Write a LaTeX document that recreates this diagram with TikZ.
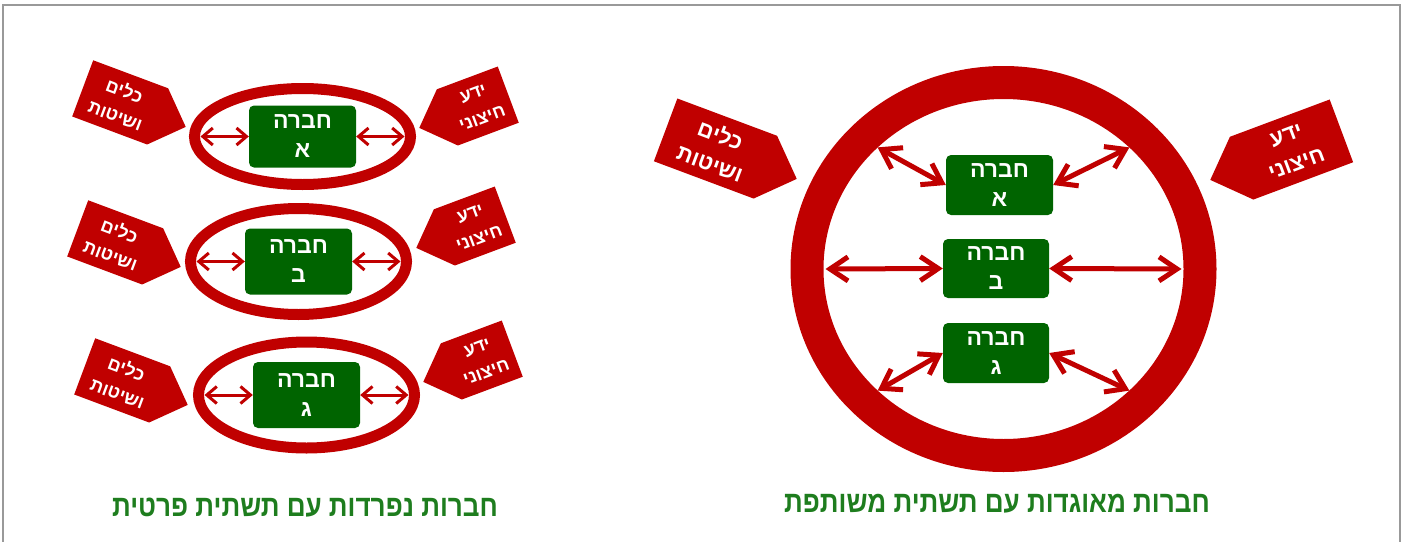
\documentclass[tikz,border=0pt]{standalone}
\usepackage{fontspec}
\newfontfamily\hebfont[Script=Hebrew]{Liberation Sans}
\TeXXeTstate=1
\usetikzlibrary{shapes.geometric,shapes.symbols,arrows.meta}
\definecolor{ringred}{RGB}{192,0,0}
\definecolor{boxgreen}{RGB}{0,100,0}
\definecolor{capgreen}{RGB}{30,125,30}
\newcommand{\heb}[1]{\beginR #1\endR}
\newcommand{\narrow}[1]{\scalebox{0.87}[1]{#1}}

\begin{document}
\begin{tikzpicture}[x=1pt, y=-1pt,
    firm/.style={rounded corners=5pt, fill=boxgreen, text=white, align=center,
        minimum width=107pt, minimum height=62pt, inner sep=0pt,
        font=\hebfont\bfseries\fontsize{23}{29}\selectfont},
    shell/.style={ellipse, draw=ringred, line width=11pt, minimum width=216pt},
    flag/.style={signal, signal pointer angle=90, fill=ringred, text=white,
        align=center, inner sep=0pt, minimum height=60pt,
        font=\hebfont\bfseries\fontsize{18}{26}\selectfont},
    bigflag/.style={flag, minimum width=140pt, minimum height=67pt,
        font=\hebfont\bfseries\fontsize{22}{30}\selectfont},
    twoway/.style={ringred, line width=3pt,
        {Straight Barb[length=10pt,width=17pt]}-{Straight Barb[length=10pt,width=17pt]}},
    bigway/.style={ringred, line width=5pt,
        {Straight Barb[length=18pt,width=24pt]}-{Straight Barb[length=18pt,width=24pt]}},
    caption/.style={text=capgreen, font=\hebfont\bfseries\fontsize{30}{36}\selectfont}]
    \useasboundingbox (0,0) rectangle (1405,541);
    \draw[gray!80, line width=2pt] (3,545) -- (3,5) -- (1400,5) -- (1400,545);

    % separate firms, each with its own shell
    \node[firm] (boxA) at (302.5,136.5) {\heb{חברה}\\\heb{א}};
    \node[firm, minimum height=66pt] (boxB) at (298.5,261.5) {\heb{חברה}\\\heb{ב}};
    \node[firm, minimum height=66pt] (boxC) at (306.5,395) {\heb{חברה}\\\heb{ג}};
    \node[shell, minimum height=96pt] (shellA) at (boxA) {};
    \node[shell, minimum height=106pt] (shellB) at (boxB) {};
    \node[shell, minimum height=106pt] (shellC) at (boxC) {};
    \path (boxA.west) edge[twoway] ([xshift=11.5pt]shellA.west);
    \path (boxA.east) edge[twoway] ([xshift=-11.5pt]shellA.east);
    \path (boxB.west) edge[twoway] ([xshift=11.5pt]shellB.west);
    \path (boxB.east) edge[twoway] ([xshift=-11.5pt]shellB.east);
    \path (boxC.west) edge[twoway] ([xshift=11.5pt]shellC.west);
    \path (boxC.east) edge[twoway] ([xshift=-11.5pt]shellC.east);

    \node[flag, signal to=east, rotate=-20.5, anchor=east, minimum width=110pt] (toolsA) at (186,127) {\heb{כלים}\\\heb{ושיטות}};
    \node[flag, signal to=east, rotate=-20.5, anchor=east, minimum width=110pt] (toolsB) at (181,267) {\heb{כלים}\\\heb{ושיטות}};
    \node[flag, signal to=east, rotate=-20.5, anchor=east, minimum width=110pt] (toolsC) at (188,405) {\heb{כלים}\\\heb{ושיטות}};
    \node[flag, signal to=west, rotate=20.5, anchor=west, minimum width=95pt] (knowA) at (419,128) {\heb{ידע}\\\heb{חיצוני}};
    \node[flag, signal to=west, rotate=20.5, anchor=west, minimum width=95pt] (knowB) at (416,248) {\heb{ידע}\\\heb{חיצוני}};
    \node[flag, signal to=west, rotate=20.5, anchor=west, minimum width=95pt] (knowC) at (423,382) {\heb{ידע}\\\heb{חיצוני}};

    \node[caption] (capL) at (305,508) {\narrow{\heb{חברות נפרדות עם תשתית פרטית}}};

    % merged firms inside one shared ring
    \node[ellipse, draw=ringred, line width=33pt, minimum width=393pt, minimum height=373pt] (hub) at (1003.5,269) {};
    \node[firm, minimum height=60pt] (bigA) at (999.5,185) {\heb{חברה}\\\heb{א}};
    \node[firm, minimum width=106pt, minimum height=59pt] (bigB) at (996,268.5) {\heb{חברה}\\\heb{ב}};
    \node[firm, minimum width=106pt, minimum height=60pt] (bigC) at (996,353) {\heb{חברה}\\\heb{ג}};
    \coordinate (hubNW) at (877.6,147.4);
    \coordinate (hubNE) at (1129.4,147.4);
    \coordinate (hubW) at (825.5,269);
    \coordinate (hubE) at (1181.5,269);
    \coordinate (hubSW) at (877.6,390.6);
    \coordinate (hubSE) at (1129.4,390.6);
    \path (bigA.west) edge[bigway] (hubNW);
    \path (bigA.east) edge[bigway] (hubNE);
    \path (bigB.west) edge[bigway] (hubW);
    \path (bigB.east) edge[bigway] (hubE);
    \path (bigC.west) edge[bigway] (hubSW);
    \path (bigC.east) edge[bigway] (hubSE);

    \node[bigflag, signal to=east, rotate=-20.5, anchor=east] (tools) at (797,179) {\heb{כלים}\\\heb{ושיטות}};
    \node[bigflag, signal to=west, rotate=20.5, anchor=west] (know) at (1210,180) {\heb{ידע}\\\heb{חיצוני}};

    \node[caption] (capR) at (997,504) {\narrow{\heb{חברות מאוגדות עם תשתית משותפת}}};
\end{tikzpicture}
\end{document}
